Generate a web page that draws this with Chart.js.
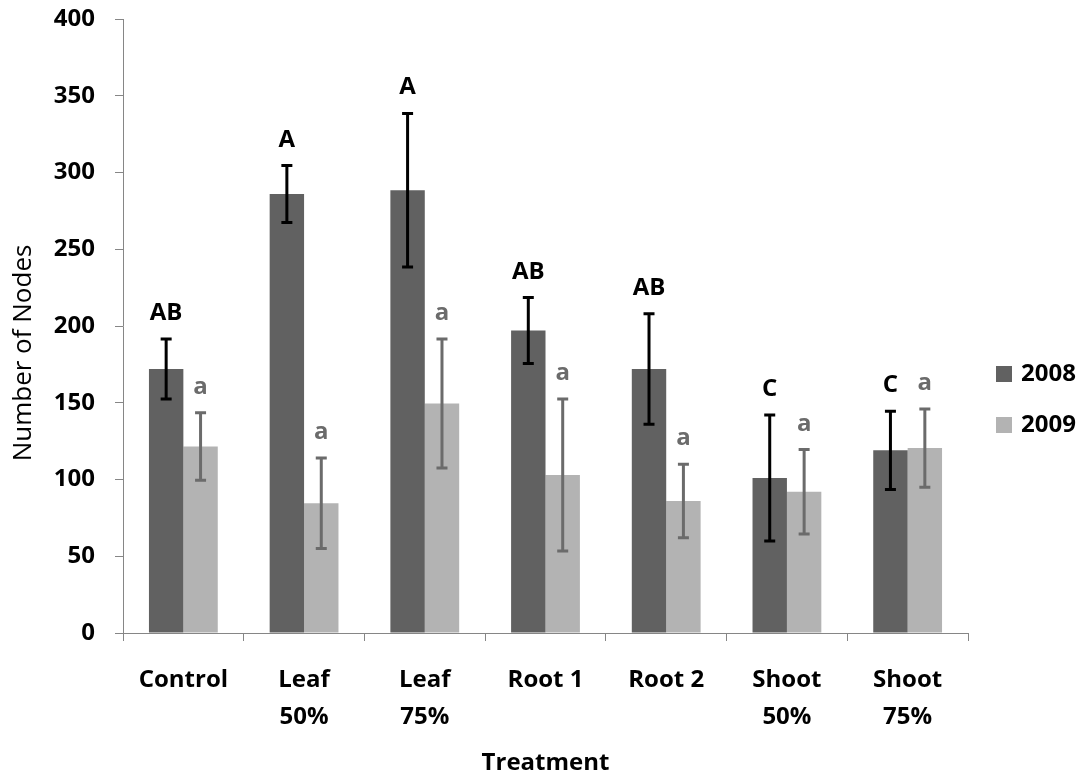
<!DOCTYPE html>
<html>
<head>
<meta charset="utf-8">
<script src="https://cdn.jsdelivr.net/npm/chart.js@4.4.1/dist/chart.umd.min.js"></script>
<style>
html,body{margin:0;padding:0;background:#fff;}
#wrap{width:1084px;height:778px;position:relative;}
</style>
</head>
<body>
<div id="wrap"><canvas id="c" width="1084" height="778"></canvas></div>
<script>
const categories = [["Control"], ["Leaf", "50%"], ["Leaf", "75%"], ["Root 1"], ["Root 2"], ["Shoot", "50%"], ["Shoot", "75%"]];
const seriesNames = ["2008", "2009"];
const values2008 = [172, 286, 288.5, 197, 172, 101, 119];
const errors2008 = [19.5, 18.5, 50, 21.5, 36, 41, 25.5];
const letters2008 = ["AB", "A", "A", "AB", "AB", "C", "C"];
const values2009 = [121.5, 84.5, 149.5, 103, 86, 92, 120.5];
const errors2009 = [22, 29.5, 42, 49.5, 24, 27.5, 25.5];
const letters2009 = ["a", "a", "a", "a", "a", "a", "a"];
const yTicks = [0, 50, 100, 150, 200, 250, 300, 350, 400];
const xTitle = "Treatment";
const yTitle = "Number of Nodes";

const FONT = "'Open Sans', 'Noto Sans', sans-serif";
const barColors = ["#616161", "#b3b3b3"];
const errColors = ["#000000", "#6b6b6b"];
const letterColors = ["#000000", "#6b6b6b"];
const errorSets = [errors2008, errors2009];
const letterSets = [letters2008, letters2009];

const errorPlugin = {
  id: 'errorBars',
  afterDatasetsDraw(chart) {
    const ctx = chart.ctx;
    const y = chart.scales.y;
    chart.data.datasets.forEach((ds, di) => {
      const meta = chart.getDatasetMeta(di);
      meta.data.forEach((bar, i) => {
        const v = ds.data[i];
        const e = errorSets[di][i];
        const yt = y.getPixelForValue(v + e);
        const yb = y.getPixelForValue(v - e);
        const x = bar.x;
        ctx.save();
        ctx.strokeStyle = errColors[di];
        ctx.lineWidth = 3;
        ctx.beginPath();
        ctx.moveTo(x, yt); ctx.lineTo(x, yb);
        ctx.moveTo(x - 5.5, yt); ctx.lineTo(x + 5.5, yt);
        ctx.moveTo(x - 5.5, yb); ctx.lineTo(x + 5.5, yb);
        ctx.stroke();
        ctx.fillStyle = letterColors[di];
        ctx.font = "bold 24px " + FONT;
        ctx.textAlign = 'center';
        ctx.textBaseline = 'alphabetic';
        ctx.fillText(letterSets[di][i], x, yt - 19);
        ctx.restore();
      });
    });
  }
};

const extrasPlugin = {
  id: 'extras',
  afterDraw(chart) {
    const ctx = chart.ctx;
    // y-axis title
    ctx.save();
    ctx.translate(24, 353);
    ctx.rotate(-Math.PI / 2);
    ctx.fillStyle = '#000';
    ctx.font = "26px " + FONT;
    ctx.textAlign = 'center';
    ctx.textBaseline = 'middle';
    ctx.fillText(yTitle, 0, 0);
    ctx.restore();
    // legend
    const centers = [374, 425];
    chart.data.datasets.forEach((ds, di) => {
      ctx.save();
      ctx.fillStyle = ds.backgroundColor;
      ctx.fillRect(996, centers[di] - 8, 16, 16);
      ctx.fillStyle = '#000';
      ctx.font = "bold 24px " + FONT;
      ctx.textAlign = 'left';
      ctx.textBaseline = 'middle';
      ctx.fillText(ds.label, 1021, centers[di]);
      ctx.restore();
    });
  }
};

new Chart(document.getElementById('c'), {
  type: 'bar',
  data: {
    labels: categories,
    datasets: [
      { label: seriesNames[0], data: values2008, backgroundColor: barColors[0], borderWidth: 0 },
      { label: seriesNames[1], data: values2009, backgroundColor: barColors[1], borderWidth: 0 }
    ]
  },
  options: {
    responsive: false,
    animation: false,
    devicePixelRatio: 1,
    layout: { padding: { left: 0, right: 116, top: 19, bottom: 0 } },
    categoryPercentage: 0.57,
    barPercentage: 1.0,
    plugins: { legend: { display: false }, tooltip: { enabled: false } },
    scales: {
      x: {
        offset: true,
        grid: { display: true, offset: true, drawOnChartArea: false, drawTicks: true, tickLength: 8, color: '#868686', lineWidth: 1 },
        border: { display: true, color: '#868686', width: 1 },
        ticks: { color: '#000', font: { family: FONT, size: 24, weight: 'bold', lineHeight: 1.54 }, padding: 21, maxRotation: 0, autoSkip: false },
        title: { display: true, text: xTitle, color: '#000', font: { family: FONT, size: 24, weight: 'bold', lineHeight: 1.2 }, padding: { top: 0, bottom: 0 } },
        afterFit(scale) { scale.height = 145; }
      },
      y: {
        min: 0, max: 400,
        afterBuildTicks(scale) { scale.ticks = yTicks.map(v => ({ value: v })); },
        grid: { display: true, drawOnChartArea: false, drawTicks: true, tickLength: 8, color: '#868686', lineWidth: 1 },
        border: { display: true, color: '#868686', width: 1 },
        ticks: { color: '#000', font: { family: FONT, size: 24, weight: 'bold' }, padding: 20 },
        title: { display: false, text: yTitle },
        afterFit(scale) { scale.width = 123; scale.paddingTop = 0; scale.paddingBottom = 0; }
      }
    }
  },
  plugins: [errorPlugin, extrasPlugin]
});
</script>
</body>
</html>
